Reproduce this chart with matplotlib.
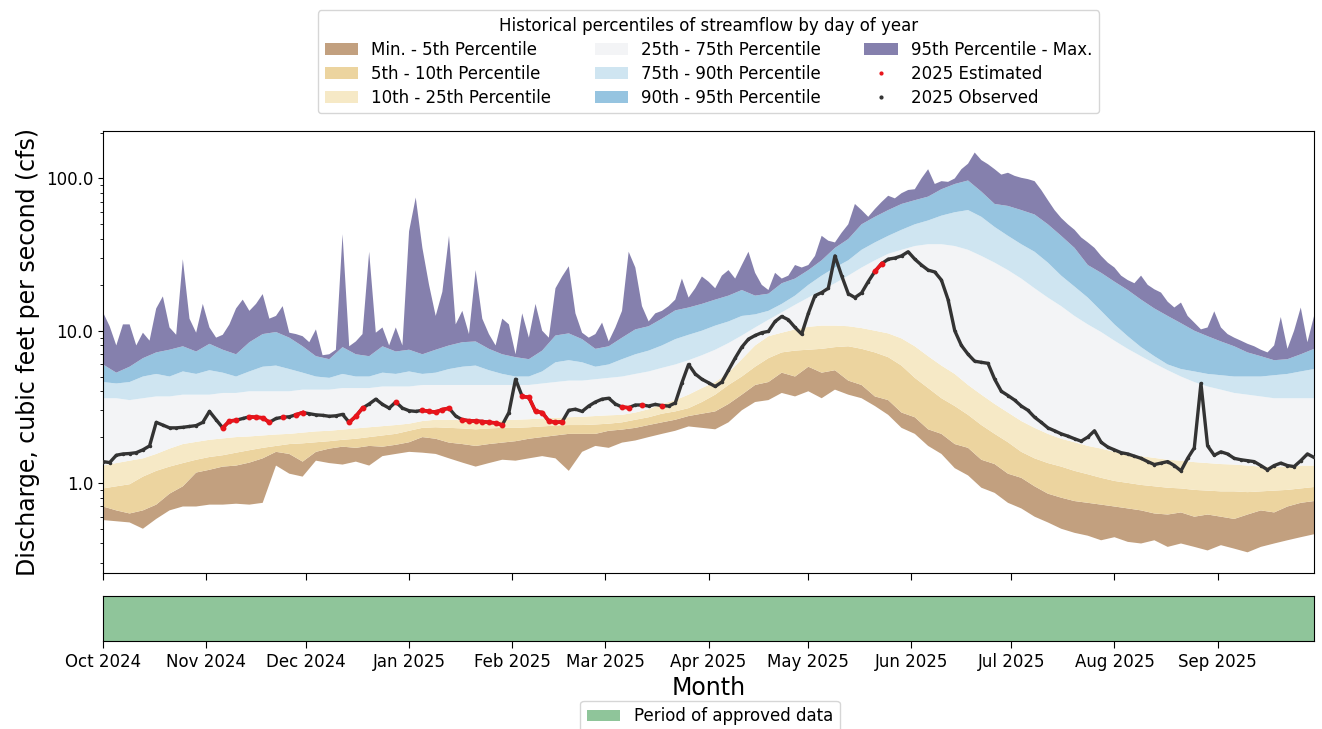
import numpy as np
import matplotlib
matplotlib.use("Agg")
import matplotlib.pyplot as plt
import matplotlib.dates as mdates
from matplotlib.patches import Patch
from matplotlib.lines import Line2D
from matplotlib.ticker import FuncFormatter, NullFormatter, LogLocator

# ---------------------------------------------------------------------------
# Water year 2025 (Oct 1 2024 - Sep 30 2025)
# ---------------------------------------------------------------------------
WY_START = np.datetime64("2024-10-01")
WY_END = np.datetime64("2025-09-30")

# Historical percentiles of daily streamflow (cfs), sampled every 4 days
pct_day = np.arange(0, 365, 4)

p_min = [0.57, 0.56, 0.55, 0.50, 0.58, 0.66, 0.70, 0.70, 0.72, 0.72,
         0.73, 0.72, 0.74, 1.30, 1.15, 1.10, 1.40, 1.35, 1.32, 1.38,
         1.30, 1.50, 1.55, 1.60, 1.58, 1.55, 1.45, 1.36, 1.28, 1.35,
         1.42, 1.40, 1.45, 1.50, 1.45, 1.20, 1.60, 1.75, 1.70, 1.84,
         1.90, 2.00, 2.10, 2.20, 2.35, 2.30, 2.25, 2.50, 3.00, 3.40,
         3.50, 3.90, 3.70, 4.00, 3.60, 4.10, 3.80, 3.60, 3.20, 2.80,
         2.30, 2.10, 1.75, 1.55, 1.25, 1.12, 0.93, 0.86, 0.74, 0.68,
         0.60, 0.55, 0.50, 0.47, 0.45, 0.42, 0.44, 0.41, 0.40, 0.42,
         0.38, 0.40, 0.38, 0.36, 0.39, 0.37, 0.35, 0.38, 0.40, 0.42,
         0.44, 0.46]

p05 = [0.70, 0.66, 0.63, 0.66, 0.72, 0.85, 0.95, 1.17, 1.22, 1.28,
       1.30, 1.36, 1.45, 1.60, 1.55, 1.38, 1.60, 1.68, 1.73, 1.70,
       1.75, 1.73, 1.78, 1.85, 2.00, 1.95, 1.84, 1.80, 1.75, 1.80,
       1.84, 1.88, 1.95, 2.00, 2.05, 2.10, 2.10, 2.10, 2.20, 2.24,
       2.30, 2.40, 2.50, 2.60, 2.75, 2.85, 2.95, 3.30, 3.80, 4.40,
       4.60, 5.30, 5.00, 5.80, 5.30, 5.50, 4.70, 4.40, 3.70, 3.50,
       2.90, 2.70, 2.25, 2.10, 1.80, 1.70, 1.42, 1.33, 1.15, 1.08,
       0.95, 0.85, 0.80, 0.76, 0.74, 0.72, 0.70, 0.68, 0.66, 0.63,
       0.62, 0.64, 0.60, 0.62, 0.60, 0.58, 0.62, 0.66, 0.64, 0.70,
       0.74, 0.76]

p10 = [0.92, 0.95, 0.98, 1.10, 1.20, 1.28, 1.35, 1.42, 1.48, 1.52,
       1.58, 1.64, 1.70, 1.75, 1.80, 1.82, 1.85, 1.88, 1.92, 1.95,
       2.00, 2.05, 2.10, 2.20, 2.30, 2.32, 2.30, 2.28, 2.25, 2.28,
       2.30, 2.30, 2.32, 2.35, 2.38, 2.40, 2.40, 2.42, 2.45, 2.50,
       2.60, 2.70, 2.85, 2.95, 3.10, 3.40, 3.80, 4.40, 5.00, 5.80,
       6.60, 7.20, 7.40, 7.50, 7.60, 7.80, 7.90, 7.60, 7.20, 6.70,
       5.90, 4.90, 4.20, 3.60, 3.20, 2.80, 2.40, 2.10, 1.85, 1.60,
       1.45, 1.35, 1.28, 1.20, 1.14, 1.08, 1.03, 1.00, 0.97, 0.95,
       0.93, 0.92, 0.90, 0.89, 0.88, 0.88, 0.87, 0.88, 0.89, 0.90,
       0.92, 0.94]

p25 = [1.30, 1.35, 1.40, 1.45, 1.55, 1.68, 1.80, 1.86, 1.92, 1.96,
       2.00, 2.02, 2.05, 2.08, 2.10, 2.14, 2.18, 2.20, 2.24, 2.28,
       2.32, 2.36, 2.40, 2.45, 2.55, 2.60, 2.60, 2.58, 2.55, 2.55,
       2.58, 2.60, 2.62, 2.65, 2.68, 2.70, 2.72, 2.75, 2.78, 2.80,
       2.90, 3.05, 3.30, 3.50, 3.80, 4.20, 4.60, 5.30, 6.50, 8.00,
       9.20, 9.70, 10.2, 10.6, 10.8, 10.8, 10.7, 10.4, 10.0, 9.60,
       8.90, 7.90, 6.80, 5.90, 5.20, 4.40, 3.80, 3.30, 2.90, 2.55,
       2.30, 2.10, 1.95, 1.85, 1.75, 1.68, 1.60, 1.55, 1.50, 1.46,
       1.42, 1.40, 1.37, 1.35, 1.33, 1.32, 1.30, 1.28, 1.28, 1.28,
       1.30, 1.30]

p75 = [3.6, 3.6, 3.5, 3.6, 3.7, 3.7, 3.8, 3.8, 3.8, 3.9,
       3.9, 4.0, 4.0, 4.0, 4.0, 4.1, 4.1, 4.1, 4.2, 4.2,
       4.2, 4.3, 4.3, 4.3, 4.4, 4.4, 4.4, 4.4, 4.4, 4.4,
       4.4, 4.4, 4.4, 4.5, 4.6, 4.7, 4.7, 4.8, 4.9, 5.0,
       5.2, 5.4, 5.7, 6.0, 6.4, 6.9, 7.5, 8.3, 9.3, 10.5,
       11.8, 13.2, 14.8, 16.5, 18.5, 20.5, 23.0, 26.0, 29.0, 32.0,
       34.0, 36.0, 37.0, 37.0, 36.0, 34.0, 31.0, 28.0, 25.0, 22.0,
       19.0, 16.5, 14.5, 12.5, 11.0, 9.8, 8.6, 7.6, 6.8, 6.1,
       5.5, 5.0, 4.6, 4.3, 4.1, 3.9, 3.8, 3.7, 3.6, 3.6,
       3.6, 3.6]

p90 = [4.6, 4.5, 4.6, 5.0, 5.2, 5.0, 5.4, 5.2, 5.5, 5.3,
       5.0, 5.4, 5.8, 5.9, 5.6, 5.3, 5.0, 4.9, 5.2, 5.0,
       5.0, 5.3, 5.2, 5.4, 5.2, 5.3, 5.6, 5.8, 5.9, 5.5,
       5.2, 5.0, 5.0, 5.4, 6.2, 6.4, 6.2, 5.8, 6.0, 6.5,
       7.0, 7.4, 8.0, 8.8, 9.4, 10.0, 10.8, 11.5, 12.5, 12.8,
       13.5, 15.0, 17.0, 20.0, 23.0, 26.0, 29.0, 34.0, 38.0, 42.0,
       46.0, 50.0, 53.0, 57.0, 60.0, 62.0, 56.0, 48.0, 42.0, 37.0,
       33.0, 28.0, 23.0, 19.5, 16.5, 13.5, 11.0, 9.2, 7.8, 6.8,
       6.0, 5.6, 5.4, 5.2, 5.1, 5.0, 5.0, 5.0, 5.1, 5.2,
       5.4, 5.6]

p95 = [6.0, 5.3, 5.8, 6.6, 7.2, 7.5, 7.9, 7.3, 8.2, 7.5,
       7.0, 8.4, 9.5, 9.8, 9.0, 7.9, 6.8, 6.5, 7.8, 7.0,
       6.8, 7.9, 7.3, 7.5, 7.0, 7.5, 8.0, 8.4, 8.5, 7.6,
       7.0, 6.7, 6.5, 7.4, 9.3, 9.6, 8.8, 7.6, 7.9, 9.0,
       10.2, 10.7, 12.0, 13.6, 14.2, 15.0, 16.0, 17.0, 18.5, 17.0,
       17.5, 20.5, 22.0, 25.0, 29.0, 35.0, 40.0, 50.0, 56.0, 62.0,
       68.0, 72.0, 76.0, 85.0, 92.0, 97.0, 82.0, 68.0, 66.0, 62.0,
       58.0, 50.0, 42.0, 35.0, 27.0, 24.0, 21.0, 18.5, 16.0, 14.0,
       12.5, 11.2, 10.0, 9.2, 8.5, 7.9, 7.2, 6.8, 6.4, 6.5,
       7.0, 7.6]

# Historical daily maximum (cfs), sampled every 2 days
max_day = np.arange(0, 365, 2)
p_max = [13.2, 10.7, 8.0, 11.0, 11.0, 8.0, 9.7, 8.6, 14.0, 16.8,
         10.5, 9.4, 29.5, 12.0, 9.7, 15.0, 10.5, 9.0, 9.4, 11.0,
         14.0, 16.0, 13.5, 15.0, 17.4, 12.0, 12.5, 14.5, 9.7, 9.5,
         9.2, 8.4, 10.2, 6.9, 7.0, 7.5, 43.0, 7.9, 8.5, 9.5,
         33.0, 9.7, 10.5, 8.0, 10.5, 8.0, 45.0, 75.0, 35.0, 20.0,
         12.5, 18.0, 42.0, 11.0, 13.5, 9.5, 25.0, 12.0, 9.5, 8.0,
         12.0, 11.0, 7.0, 13.0, 9.0, 15.0, 10.0, 9.0, 19.0, 22.7,
         26.5, 13.0, 9.7, 9.0, 9.5, 11.3, 8.5, 10.5, 13.5, 33.0,
         26.0, 14.5, 11.5, 13.0, 13.5, 14.5, 16.0, 22.0, 16.5, 19.0,
         22.7, 21.0, 19.0, 23.0, 25.0, 22.0, 27.0, 33.0, 24.0, 20.0,
         18.5, 24.0, 22.0, 23.0, 27.0, 26.0, 27.0, 31.0, 42.0, 39.0,
         38.0, 44.0, 50.0, 68.0, 62.0, 56.0, 63.0, 70.0, 77.0, 74.0,
         80.0, 84.0, 85.0, 100.0, 115.0, 92.0, 96.0, 95.0, 100.0, 115.0,
         125.0, 148.0, 132.0, 124.0, 115.0, 106.0, 109.0, 104.0, 101.0, 99.0,
         96.0, 84.0, 72.0, 62.0, 55.0, 50.0, 46.0, 41.0, 38.0, 35.0,
         31.0, 28.0, 26.0, 23.0, 21.5, 20.5, 23.0, 20.0, 18.7, 17.8,
         15.5, 14.2, 15.3, 12.5, 11.3, 10.2, 10.5, 13.4, 10.5, 9.5,
         9.0, 8.6, 8.2, 7.9, 7.5, 7.2, 8.0, 12.3, 7.6, 10.0,
         14.2, 8.4, 12.5]

# 2025 daily discharge (cfs), every 2 days
obs_day = np.arange(0, 365, 2)
obs_flow = [1.38, 1.36, 1.52, 1.55, 1.56, 1.58, 1.65, 1.75, 2.50, 2.40,
            2.30, 2.30, 2.32, 2.35, 2.38, 2.50, 2.95, 2.60, 2.30, 2.55,
            2.58, 2.65, 2.72, 2.70, 2.68, 2.50, 2.65, 2.70, 2.72, 2.80,
            2.90, 2.85, 2.80, 2.78, 2.74, 2.76, 2.82, 2.50, 2.74, 3.10,
            3.30, 3.55, 3.28, 3.10, 3.40, 3.10, 2.98, 2.95, 3.00, 2.95,
            2.92, 3.03, 3.10, 2.75, 2.60, 2.56, 2.55, 2.53, 2.50, 2.48,
            2.40, 2.90, 4.80, 3.70, 3.65, 2.95, 2.90, 2.55, 2.50, 2.52,
            3.00, 3.05, 2.95, 3.20, 3.40, 3.55, 3.60, 3.30, 3.15, 3.12,
            3.25, 3.25, 3.20, 3.28, 3.22, 3.20, 3.35, 4.55, 6.00, 5.20,
            4.80, 4.55, 4.30, 4.60, 5.50, 6.60, 7.80, 8.80, 9.30, 9.70,
            9.90, 11.5, 12.4, 11.8, 10.5, 9.50, 13.0, 17.0, 17.8, 19.0,
            31.0, 23.0, 17.5, 16.5, 17.7, 21.0, 24.5, 27.5, 29.5, 30.0,
            31.0, 33.0, 29.5, 27.0, 25.0, 24.3, 21.5, 16.0, 10.0, 8.0,
            7.00, 6.30, 6.20, 6.10, 4.80, 4.00, 3.75, 3.50, 3.20, 3.00,
            2.70, 2.50, 2.30, 2.20, 2.10, 2.03, 1.95, 1.88, 2.00, 2.20,
            1.85, 1.72, 1.65, 1.58, 1.55, 1.50, 1.45, 1.38, 1.32, 1.35,
            1.38, 1.30, 1.20, 1.45, 1.70, 4.50, 1.75, 1.52, 1.60, 1.55,
            1.45, 1.42, 1.40, 1.38, 1.30, 1.22, 1.30, 1.35, 1.30, 1.28,
            1.40, 1.55, 1.47]

# Days whose values are estimated rather than observed
estimated_periods = [("2024-11-06", "2024-11-10"), ("2024-11-14", "2024-11-18"),
                     ("2024-11-20", "2024-11-20"), ("2024-11-23", "2024-11-25"),
                     ("2024-11-27", "2024-12-01"), ("2024-12-13", "2024-12-18"),
                     ("2024-12-27", "2024-12-29"), ("2025-01-04", "2025-01-14"),
                     ("2025-01-16", "2025-01-30"), ("2025-02-03", "2025-02-16"),
                     ("2025-03-06", "2025-03-09"), ("2025-03-11", "2025-03-13"),
                     ("2025-03-17", "2025-03-19"), ("2025-05-20", "2025-05-23")]

approved_period = ("2024-10-01", "2025-09-30")

band_labels = ["Min. - 5th Percentile", "5th - 10th Percentile",
               "10th - 25th Percentile", "25th - 75th Percentile",
               "75th - 90th Percentile", "90th - 95th Percentile",
               "95th Percentile - Max."]
band_colors = ["#c2a07f", "#ecd49f", "#f6e9c6", "#f3f4f6",
               "#cfe5f1", "#96c4e0", "#8580ad"]
OBS_COLOR = "#333333"
EST_COLOR = "#e8141b"
APPROVED_COLOR = "#8fc59a"


def to_num(days):
    return mdates.date2num(WY_START + np.asarray(days).astype("timedelta64[D]"))


fig = plt.figure(figsize=(13.22, 7.29), dpi=100)
ax = fig.add_axes([0.0779, 0.2140, 0.9161, 0.6063])
axb = fig.add_axes([0.0779, 0.1207, 0.9161, 0.0617])

ax.set_yscale("log")

xp = to_num(pct_day)
xm = to_num(max_day)
bounds = [(xp, p_min), (xp, p05), (xp, p10), (xp, p25),
          (xp, p75), (xp, p90), (xp, p95), (xm, p_max)]

for k, color in enumerate(band_colors):
    (lx, lo), (hx, hi) = bounds[k], bounds[k + 1]
    ax.fill(np.concatenate([hx, lx[::-1]]),
            np.concatenate([np.asarray(hi), np.asarray(lo)[::-1]]),
            color=color, lw=0, zorder=1)

# 2025 record
xo = to_num(obs_day)
flow = np.asarray(obs_flow)
ax.plot(xo, flow, color=OBS_COLOR, lw=2.4, marker=".", ms=3, zorder=5)

obs_dates = WY_START + obs_day.astype("timedelta64[D]")
est_mask = np.zeros(len(obs_day), dtype=bool)
for s, e in estimated_periods:
    est_mask |= (obs_dates >= np.datetime64(s)) & (obs_dates <= np.datetime64(e))
est_flow = np.where(est_mask, flow, np.nan)
ax.plot(xo, est_flow, color=EST_COLOR, lw=2.6, marker="o", ms=3.2, zorder=6)

x_lo = mdates.date2num(WY_START)
x_hi = mdates.date2num(WY_END)
for a in (ax, axb):
    a.set_xlim(x_lo, x_hi)
    a.xaxis.set_major_locator(mdates.MonthLocator())
    a.xaxis.set_major_formatter(mdates.DateFormatter("%b %Y"))
    a.tick_params(axis="x", direction="out", length=5, labelsize=12)

ax.set_ylim(0.256, 205)
ax.yaxis.set_major_locator(LogLocator(base=10, numticks=10))
ax.yaxis.set_major_formatter(FuncFormatter(lambda v, _: f"{v:.1f}"))
ax.yaxis.set_minor_locator(LogLocator(base=10, subs=np.arange(2, 10), numticks=20))
ax.yaxis.set_minor_formatter(NullFormatter())
ax.tick_params(axis="y", labelsize=12)
ax.tick_params(axis="x", labelbottom=False)
ax.set_ylabel("Discharge, cubic feet per second (cfs)", fontsize=17)

# Approved-data strip
axb.axvspan(mdates.date2num(np.datetime64(approved_period[0])),
            mdates.date2num(np.datetime64(approved_period[1])),
            color=APPROVED_COLOR, lw=0)
axb.set_yticks([])
axb.set_xlabel("Month", fontsize=17)

handles = [Patch(facecolor=c, edgecolor="none", label=l)
           for c, l in zip(band_colors, band_labels)]
handles.append(Line2D([], [], ls="none", marker=".", ms=4, color=EST_COLOR,
                      label="2025 Estimated"))
handles.append(Line2D([], [], ls="none", marker=".", ms=4, color=OBS_COLOR,
                      label="2025 Observed"))
leg = ax.legend(handles=handles, ncol=3, loc="lower center",
                bbox_to_anchor=(0.5, 1.04), fontsize=12,
                title="Historical percentiles of streamflow by day of year",
                title_fontsize=12, labelspacing=0.35, columnspacing=2.6,
                borderaxespad=0)

fig.legend(handles=[Patch(facecolor=APPROVED_COLOR, edgecolor="none",
                          label="Period of approved data")],
           loc="upper center", bbox_to_anchor=(0.537, 0.039), fontsize=12,
           borderaxespad=0)

fig.savefig("out.png", dpi=100)
